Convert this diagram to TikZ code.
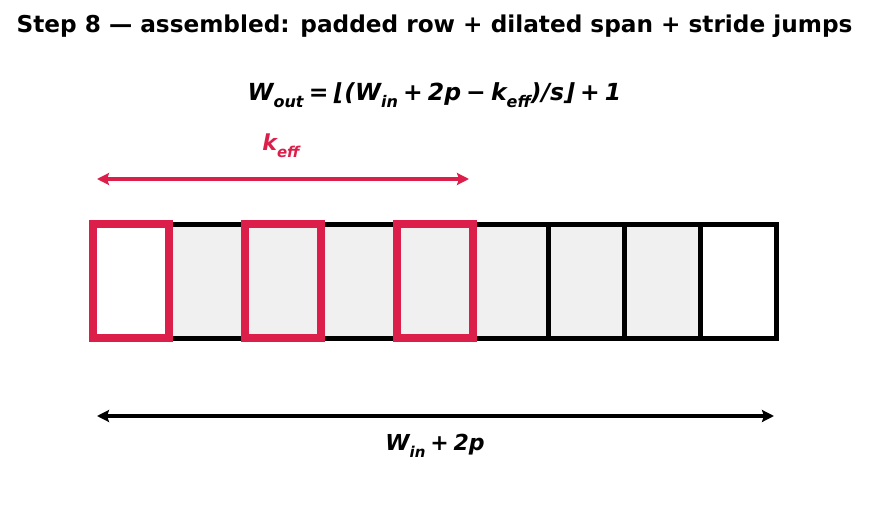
\documentclass[tikz,border=0pt]{standalone}
\usepackage{fontspec}
\setmainfont{DejaVu Sans}
\newfontfamily\mathbi{DejaVu Sans}[UprightFont={* Bold Oblique}]
\usetikzlibrary{arrows.meta}
\definecolor{kred}{RGB}{220,30,75}
\definecolor{cellgray}{RGB}{240,240,240}
\newcommand\lowsub[1]{\raisebox{-0.3em}{\fontsize{0.68em}{1em}\selectfont #1}}
\newcommand\opsp{\hspace{0.22em}}
\tikzset{
  cell/.style={draw=black, line width=4.8pt, minimum width=76pt, minimum height=114pt, inner sep=0pt, outer sep=0pt, fill=cellgray},
  padcell/.style={cell, fill=white},
  kbox/.style={draw=kred, line width=7.8pt, minimum width=76pt, minimum height=114pt, inner sep=0pt, outer sep=0pt, fill=none},
  dimarrow/.style={line width=4.2pt, {Stealth[length=12pt,width=12pt,inset=2pt]}-{Stealth[length=12pt,width=12pt,inset=2pt]}},
  lbl/.style={inner sep=0pt, font=\mathbi\fontsize{22}{26}\selectfont}
}
\begin{document}
\begin{tikzpicture}[x=1pt,y=-1pt]
\useasboundingbox (0,0) rectangle (869,510);
\node[inner sep=0pt, font=\bfseries\fontsize{23.2}{27}\selectfont] (title) at (434.5,26.5) {Step 8 — assembled: padded row + dilated span + stride jumps};
\node[lbl, font=\mathbi\fontsize{23.5}{28}\selectfont] (formula) at (434.5,95) {W\lowsub{out}\opsp=\opsp⌊(W\lowsub{in}\opsp+\opsp2p\opsp−\opsp k\lowsub{eff})/s⌋\opsp+\opsp1};
% cells
\foreach \i in {0,...,8} {
  \ifnum\i=0 \def\st{padcell}\else\ifnum\i=8 \def\st{padcell}\else\def\st{cell}\fi\fi
  \node[\st] (c\i) at ({131+\i*75.9},281.2) {};
}
% kernel taps
\foreach \i in {0,2,4} {
  \node[kbox] (k\i) at (c\i) {};
}
% k_eff arrow
\coordinate (ka) at (97,179);
\coordinate (kb) at (469,179);
\draw[dimarrow, draw=kred, fill=kred] (ka) -- (kb);
\node[lbl, text=kred] (klab) at (281,146) {k\lowsub{eff}};
% W arrow
\coordinate (wa) at (97,416);
\coordinate (wb) at (774,416);
\draw[dimarrow] (wa) -- (wb);
\node[lbl] (wlab) at (435,446) {W\lowsub{in}\opsp+\opsp2p};
\end{tikzpicture}
\end{document}
